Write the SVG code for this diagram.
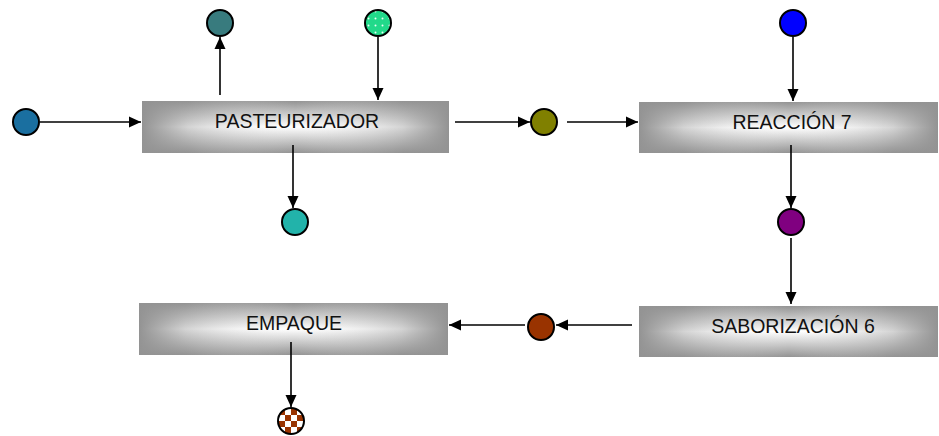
<svg xmlns="http://www.w3.org/2000/svg" width="939" height="436" viewBox="0 0 939 436">
  <style>
    .box { stroke: none; }
    .lbl { font-family: "Liberation Sans", Arial, sans-serif; font-size: 19.5px; fill: #111; text-anchor: middle; }
    .node { stroke: #000; stroke-width: 2; }
    .edge { stroke: #000; stroke-width: 1.6; fill: none; marker-end: url(#arrow); }
  </style>
  <defs>
    <marker id="arrow" viewBox="0 0 12 12" refX="12" refY="6" markerWidth="12" markerHeight="12" markerUnits="userSpaceOnUse" orient="auto">
      <path d="M0,0.5 L12,6 L0,11.5 Z" fill="#000"/>
    </marker>
    <linearGradient id="gv" x1="0" y1="0" x2="0" y2="1">
      <stop offset="0" stop-color="#939393"/>
      <stop offset="0.5" stop-color="#ffffff"/>
      <stop offset="1" stop-color="#939393"/>
    </linearGradient>
    <linearGradient id="gh" x1="0" y1="0" x2="1" y2="0">
      <stop offset="0" stop-color="#939393" stop-opacity="1"/>
      <stop offset="0.15" stop-color="#939393" stop-opacity="0.4"/>
      <stop offset="0.5" stop-color="#ffffff" stop-opacity="0"/>
      <stop offset="0.85" stop-color="#939393" stop-opacity="0.4"/>
      <stop offset="1" stop-color="#939393" stop-opacity="1"/>
    </linearGradient>
    <pattern id="dots" width="7" height="7" patternUnits="userSpaceOnUse" x="1" y="1">
      <rect width="7" height="7" fill="#22d98a"/>
      <circle cx="3.5" cy="3.5" r="1" fill="#e8fff4"/>
    </pattern>
    <pattern id="check" width="12" height="12" patternUnits="userSpaceOnUse" x="279" y="409">
      <rect width="12" height="12" fill="#ffffff"/>
      <rect width="6" height="6" fill="#993300"/>
      <rect x="6" y="6" width="6" height="6" fill="#993300"/>
    </pattern>
  </defs>

  <!-- process boxes -->
  <g id="pasteurizador">
    <rect class="box" x="142" y="101" width="307" height="52" fill="url(#gv)"/>
    <rect class="box" x="142" y="101" width="307" height="52" fill="url(#gh)"/>
    <text class="lbl" x="297" y="128">PASTEURIZADOR</text>
  </g>
  <g id="reaccion">
    <rect class="box" x="639" y="102" width="299" height="51" fill="url(#gv)"/>
    <rect class="box" x="639" y="102" width="299" height="51" fill="url(#gh)"/>
    <text class="lbl" x="792" y="129">REACCIÓN 7</text>
  </g>
  <g id="saborizacion">
    <rect class="box" x="639" y="306" width="299" height="51" fill="url(#gv)"/>
    <rect class="box" x="639" y="306" width="299" height="51" fill="url(#gh)"/>
    <text class="lbl" x="793" y="333">SABORIZACIÓN 6</text>
  </g>
  <g id="empaque">
    <rect class="box" x="139" y="303" width="309" height="52" fill="url(#gv)"/>
    <rect class="box" x="139" y="303" width="309" height="52" fill="url(#gh)"/>
    <text class="lbl" x="294" y="330">EMPAQUE</text>
  </g>

  <!-- stream nodes -->
  <g id="s-entrada"><circle class="node" cx="26" cy="122" r="13" fill="#1a6fa0"/></g>
  <g id="s-vapor"><circle class="node" cx="220" cy="23" r="13" fill="#387b7e"/></g>
  <g id="s-aditivo"><circle class="node" cx="378" cy="23" r="13" fill="url(#dots)"/></g>
  <g id="s-residuo"><circle class="node" cx="295" cy="222" r="13" fill="#22b3aa"/></g>
  <g id="s-intermedio"><circle class="node" cx="544" cy="122" r="13" fill="#808000"/></g>
  <g id="s-reactivo"><circle class="node" cx="793" cy="23" r="13" fill="#0000ff"/></g>
  <g id="s-reaccionado"><circle class="node" cx="791" cy="222" r="13" fill="#800080"/></g>
  <g id="s-saborizado"><circle class="node" cx="541" cy="327" r="13" fill="#993300"/></g>
  <g id="s-producto"><circle class="node" cx="291" cy="421" r="13" fill="url(#check)"/></g>

  <!-- connectors -->
  <g id="connectors">
    <line class="edge" x1="40" y1="122" x2="141" y2="122"/>
    <line class="edge" x1="220" y1="95" x2="220" y2="37"/>
    <line class="edge" x1="378" y1="37" x2="378" y2="100"/>
    <line class="edge" x1="293" y1="145" x2="293" y2="208"/>
    <line class="edge" x1="455" y1="122" x2="530" y2="122"/>
    <line class="edge" x1="567" y1="122" x2="638" y2="122"/>
    <line class="edge" x1="793" y1="37" x2="793" y2="101"/>
    <line class="edge" x1="791" y1="145" x2="791" y2="208"/>
    <line class="edge" x1="791" y1="238" x2="791" y2="304"/>
    <line class="edge" x1="632" y1="325" x2="556" y2="325"/>
    <line class="edge" x1="525" y1="325" x2="449" y2="325"/>
    <line class="edge" x1="291" y1="342" x2="291" y2="407"/>
  </g>
</svg>
